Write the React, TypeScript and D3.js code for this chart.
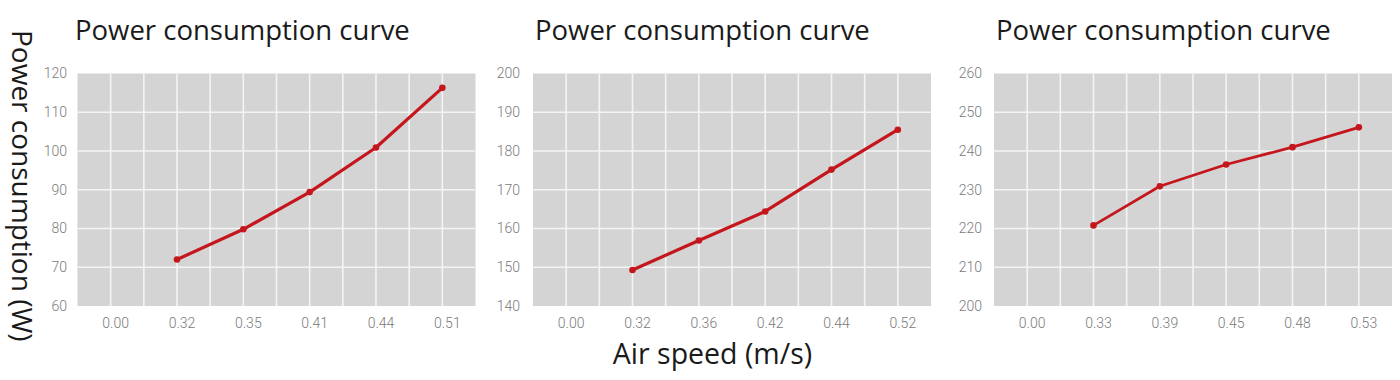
import React from "react";
import * as d3 from "d3";

const titleText = "Power consumption curve";
const yAxisTitle = "Power consumption (W)";
const xAxisTitle = "Air speed (m/s)";

const categoriesA = ["0.00", "0.32", "0.35", "0.41", "0.44", "0.51"];
const valuesA: (number | null)[] = [null, 72, 79.8, 89.4, 100.9, 116.3];
const yDomainA: [number, number] = [60, 120];

const categoriesB = ["0.00", "0.32", "0.36", "0.42", "0.44", "0.52"];
const valuesB: (number | null)[] = [null, 149.3, 156.9, 164.4, 175.2, 185.5];
const yDomainB: [number, number] = [140, 200];

const categoriesC = ["0.00", "0.33", "0.39", "0.45", "0.48", "0.53"];
const valuesC: (number | null)[] = [null, 220.8, 230.9, 236.5, 241.0, 246.1];
const yDomainC: [number, number] = [200, 260];

const panels = [
  { cats: categoriesA, vals: valuesA, dom: yDomainA, left: 77.5, titleX: 75, labelRight: 67, lw: 3.2 },
  { cats: categoriesB, vals: valuesB, dom: yDomainB, left: 533, titleX: 535, labelRight: 520, lw: 3.2 },
  { cats: categoriesC, vals: valuesC, dom: yDomainC, left: 994, titleX: 996, labelRight: 982, lw: 2.7 },
];

const TOP = 73.5;
const BOTTOM = 306;
const WIDTH = 398;
const RED = "#c4161c";
const TITLE_FONT = "'Open Sans', 'Noto Sans', sans-serif";
const TICK_FONT = "Roboto, 'Liberation Sans', sans-serif";

function Panel({ p }: { p: (typeof panels)[number] }) {
  const x = d3.scaleLinear().domain([0, 12]).range([p.left, p.left + WIDTH]);
  const y = d3.scaleLinear().domain(p.dom).range([BOTTOM, TOP]);
  const yTicks = y.ticks(6);
  const vGrid = d3.range(1, 12);
  const pts = p.vals
    .map((v, i) => (v == null ? null : { cx: x(2 * i + 1), cy: y(v) }))
    .filter((d): d is { cx: number; cy: number } => d !== null);
  const line = d3
    .line<{ cx: number; cy: number }>()
    .x((d) => d.cx)
    .y((d) => d.cy);
  return (
    <g>
      <text x={p.titleX} y={39.5} fontFamily={TITLE_FONT} fontSize={27.5} fill="#1a1a1a">
        {titleText}
      </text>
      <rect x={p.left} y={TOP} width={WIDTH} height={BOTTOM - TOP} fill="#d4d4d4" />
      {vGrid.map((g) => (
        <line key={"v" + g} x1={x(g)} x2={x(g)} y1={TOP} y2={BOTTOM} stroke="#f4f4f4" strokeWidth={1.6} />
      ))}
      {yTicks
        .filter((t) => t !== p.dom[0] && t !== p.dom[1])
        .map((t) => (
          <line key={"h" + t} x1={p.left} x2={p.left + WIDTH} y1={y(t)} y2={y(t)} stroke="#f4f4f4" strokeWidth={1.6} />
        ))}
      {yTicks.map((t) => (
        <text
          key={"yl" + t}
          x={p.labelRight}
          y={y(t)}
          dy="0.35em"
          textAnchor="end"
          fontFamily={TICK_FONT}
          fontWeight={300}
          fontSize={14}
          fill="#7a7a7a"
        >
          {t}
        </text>
      ))}
      {p.cats.map((c, i) => (
        <text
          key={"xl" + c + i}
          x={x(2 * i + 1) + 5}
          y={323}
          dy="0.35em"
          textAnchor="middle"
          fontFamily={TICK_FONT}
          fontWeight={300}
          fontSize={14}
          fill="#7a7a7a"
        >
          {c}
        </text>
      ))}
      <path d={line(pts) || ""} fill="none" stroke={RED} strokeWidth={p.lw} strokeLinejoin="round" strokeLinecap="round" />
      {pts.map((d, i) => (
        <circle key={"pt" + i} cx={d.cx} cy={d.cy} r={3.3} fill={RED} />
      ))}
    </g>
  );
}

export default function App() {
  return (
    <svg
      width={1400}
      height={380}
      style={{ position: "absolute", left: 0, top: 0, display: "block", background: "#fff" }}
    >
      {panels.map((p, i) => (
        <Panel key={i} p={p} />
      ))}
      <text
        transform="translate(12,30) rotate(90)"
        fontFamily={TITLE_FONT}
        fontSize={28}
        fill="#1a1a1a"
      >
        {yAxisTitle}
      </text>
      <text x={712.5} y={364} textAnchor="middle" fontFamily={TITLE_FONT} fontSize={28.5} fill="#1a1a1a">
        {xAxisTitle}
      </text>
    </svg>
  );
}
